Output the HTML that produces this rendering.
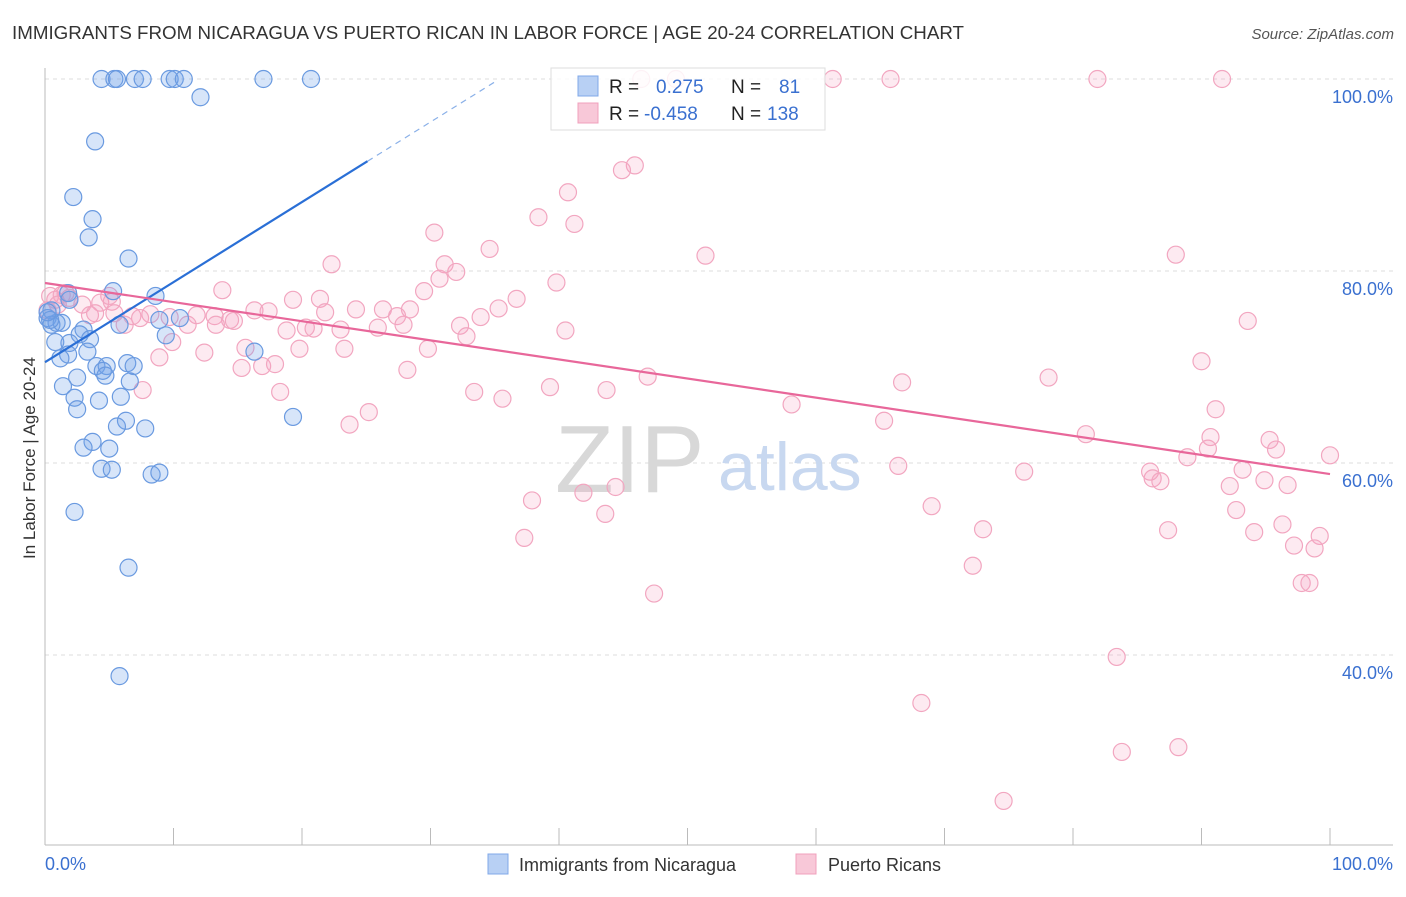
<!DOCTYPE html>
<html><head><meta charset="utf-8"><style>
body{margin:0;background:#fff;font-family:"Liberation Sans",sans-serif;}
svg text{font-family:"Liberation Sans",sans-serif;}
</style></head><body>
<svg id="chart" width="1406" height="892" viewBox="0 0 1406 892">
<text x="12" y="39" font-size="18.5" fill="#333" textLength="952" lengthAdjust="spacingAndGlyphs">IMMIGRANTS FROM NICARAGUA VS PUERTO RICAN IN LABOR FORCE | AGE 20-24 CORRELATION CHART</text>
<text x="1394" y="39" font-size="15" fill="#555" font-style="italic" text-anchor="end">Source: ZipAtlas.com</text>
<text x="35" y="458" font-size="17" fill="#333" text-anchor="middle" transform="rotate(-90 35 458)">In Labor Force | Age 20-24</text>
<g id="grid"></g>
<text x="555" y="492" font-size="96" fill="#d8d8d8" font-family="Liberation Serif">ZIP</text>
<text x="718" y="490" font-size="68" fill="#c8d8f0">atlas</text>
<g id="pts"></g>
<g id="lines"></g>
<g>
<rect x="551" y="68" width="274" height="62" fill="rgba(255,255,255,0.85)" stroke="#ddd"/>
<rect x="578" y="76" width="20" height="20" fill="#b8d0f4" stroke="#80a8e8"/>
<rect x="578" y="103" width="20" height="20" fill="#f8c8d8" stroke="#f0a0bc"/>
<text x="609" y="93" font-size="19" fill="#222">R = <tspan x="656" fill="#3a70d0">0.275</tspan><tspan x="731" fill="#222">N =</tspan><tspan x="779" fill="#3a70d0">81</tspan></text>
<text x="609" y="120" font-size="19" fill="#222">R = <tspan x="644" fill="#3a70d0">-0.458</tspan><tspan x="731" fill="#222">N =</tspan><tspan x="767" fill="#3a70d0">138</tspan></text>
</g>
<g>
<rect x="488" y="854" width="20" height="20" fill="#b8d0f4" stroke="#80a8e8"/>
<text x="519" y="871" font-size="18" fill="#333">Immigrants from Nicaragua</text>
<rect x="796" y="854" width="20" height="20" fill="#f8c8d8" stroke="#f0a0bc"/>
<text x="828" y="871" font-size="18" fill="#333">Puerto Ricans</text>
</g>
</svg>
<script>
const yTicks=[100,80,60,40];
const yTickLabels=["100.0%","80.0%","60.0%","40.0%"];
const xTicks=[0,10,20,30,40,50,60,70,80,90,100];
const xEndLabels=["0.0%","100.0%"];
const blueX=[4.4,5.4,5.6,7.0,7.6,9.7,10.1,10.8,17.0,20.7,12.1,3.9,2.2,3.7,3.4,6.5,5.3,8.6,1.8,0.5,0.2,0.9,0.5,1.3,5.8,8.9,10.5,9.4,3.0,2.7,3.5,0.8,1.9,3.3,1.8,1.2,16.3,4.0,6.4,4.8,6.9,4.5,4.7,2.5,6.6,1.4,2.3,4.2,5.9,2.5,19.3,6.3,5.6,7.8,3.7,3.0,5.0,4.4,5.2,8.3,8.9,2.3,6.5,5.8,0.4,0.2,1.9];
const blueY=[100,100,100,100,100,100,100,100,100,100,98.1,93.5,87.7,85.4,83.5,81.3,77.9,77.4,77.7,75.9,75.1,74.6,74.4,74.6,74.4,74.9,75.1,73.3,73.9,73.4,72.9,72.6,72.5,71.6,71.3,70.9,71.6,70.1,70.4,70.1,70.1,69.6,69.1,68.9,68.5,68.0,66.8,66.5,66.9,65.6,64.8,64.4,63.8,63.6,62.2,61.6,61.5,59.4,59.3,58.8,59.0,54.9,49.1,37.8,74.9,75.7,77.0];
const pinkX=[46.4,49.1,61.3,65.8,81.9,91.6,45.9,44.9,40.7,38.4,41.2,30.3,34.6,51.4,88.0,22.3,32.0,31.1,30.7,39.8,29.5,36.7,13.8,19.3,21.4,24.2,26.3,28.4,35.3,16.3,17.4,21.8,27.4,33.9,13.2,11.8,14.4,14.7,6.8,8.2,9.7,11.1,13.3,27.9,32.3,23.0,20.3,18.8,20.9,25.9,40.5,32.8,93.6,15.6,19.8,23.3,29.8,9.9,12.4,8.9,15.3,16.9,17.9,28.2,90.0,46.9,66.7,78.1,7.6,18.3,33.4,35.6,39.3,43.7,58.1,91.1,65.3,23.7,25.2,81.0,90.7,95.3,95.8,88.9,90.5,100,66.4,76.2,93.2,86.0,86.2,86.8,94.9,96.7,92.2,44.4,37.9,41.9,69.0,43.6,92.7,73.0,87.4,96.3,94.1,99.2,97.2,98.8,37.3,72.2,97.8,98.4,47.4,83.4,68.2,83.8,88.2,74.6,0.4,0.8,1.3,1.9,2.9,3.5,4.3,5.2,5.4,6.2,7.4,0.2,1.0,3.9,1.6,5.0];
const pinkY=[100,100,100,100,100,100,91.0,90.5,88.2,85.6,84.9,84.0,82.3,81.6,81.7,80.7,79.9,80.7,79.2,78.8,77.9,77.1,78.0,77.0,77.1,76.0,76.0,76.0,76.1,75.9,75.8,75.7,75.3,75.2,75.3,75.4,74.9,74.8,75.3,75.5,75.2,74.4,74.4,74.4,74.3,73.9,74.1,73.8,74.0,74.1,73.8,73.2,74.8,72.0,71.9,71.9,71.9,72.6,71.5,71.0,69.9,70.1,70.3,69.7,70.6,69.0,68.4,68.9,67.6,67.4,67.4,66.7,67.9,67.6,66.1,65.6,64.4,64.0,65.3,63.0,62.7,62.4,61.4,60.6,61.5,60.8,59.7,59.1,59.3,59.1,58.4,58.1,58.2,57.7,57.6,57.5,56.1,56.9,55.5,54.7,55.1,53.1,53.0,53.6,52.8,52.4,51.4,51.1,52.2,49.3,47.5,47.5,46.4,39.8,35.0,29.9,30.4,24.8,77.4,77.0,77.5,77.2,76.5,75.4,76.7,76.8,75.6,74.4,75.1,75.9,76.5,75.6,77.7,77.4];
const blueTrend=[70.5,0.834];
const pinkTrend=[78.75,-0.199];
const NS="http://www.w3.org/2000/svg";
const X=v=>45+v*12.85, Y=v=>79+(100-v)*9.6;
function mk(t,a,p){const e=document.createElementNS(NS,t);for(const k in a)e.setAttribute(k,a[k]);p.appendChild(e);return e;}
const grid=document.getElementById('grid');
yTicks.forEach((t,i)=>{
  const l=mk('line',{x1:45,x2:1393,y1:Y(t),y2:Y(t),stroke:'#ddd','stroke-dasharray':'4,4'},grid);
  
  
  const tx=mk('text',{x:1393,y:Y(t)+24,'font-size':18,fill:'#3a70d0','text-anchor':'end'},grid);
  tx.textContent=yTickLabels[i];
  
  
});
let ax=mk('line',{x1:45,x2:45,y1:68,y2:845,stroke:'#bbb'},grid);


ax=mk('line',{x1:45,x2:1393,y1:845,y2:845,stroke:'#bbb'},grid);


xTicks.forEach(t=>{
  const l=mk('line',{x1:X(t),x2:X(t),y1:828,y2:845,stroke:'#bbb'},grid);
  
  
});
[[0,'start'],[100,'end']].forEach((p,i)=>{
  const tx=mk('text',{x:i?1393:45,y:870,'font-size':18,fill:'#3a70d0','text-anchor':p[1]},grid);
  tx.textContent=xEndLabels[i];
  
  
});
const pts=document.getElementById('pts');
pinkX.forEach((x,i)=>{
  const c=mk('circle',{cx:X(x),cy:Y(pinkY[i]),r:8.5,fill:'rgba(245,160,190,0.22)',stroke:'#f2a6c0','stroke-width':1.2},pts);
  
  
});
blueX.forEach((x,i)=>{
  const c=mk('circle',{cx:X(x),cy:Y(blueY[i]),r:8.5,fill:'rgba(110,160,235,0.28)',stroke:'#6a9ae0','stroke-width':1.2},pts);
  
  
});
const lines=document.getElementById('lines');
let ln=mk('line',{x1:X(0),y1:Y(blueTrend[0]),x2:X(25.1),y2:Y(blueTrend[0]+blueTrend[1]*25.1),stroke:'#2a6fd6','stroke-width':2.2},lines);


ln=mk('line',{x1:X(25.1),y1:Y(blueTrend[0]+blueTrend[1]*25.1),x2:X(35),y2:Y(blueTrend[0]+blueTrend[1]*35),stroke:'#8ab0e8','stroke-width':1.2,'stroke-dasharray':'6,5'},lines);


ln=mk('line',{x1:X(0),y1:Y(pinkTrend[0]),x2:X(100),y2:Y(pinkTrend[0]+pinkTrend[1]*100),stroke:'#e8679a','stroke-width':2.2},lines);


</script>
</body></html>
